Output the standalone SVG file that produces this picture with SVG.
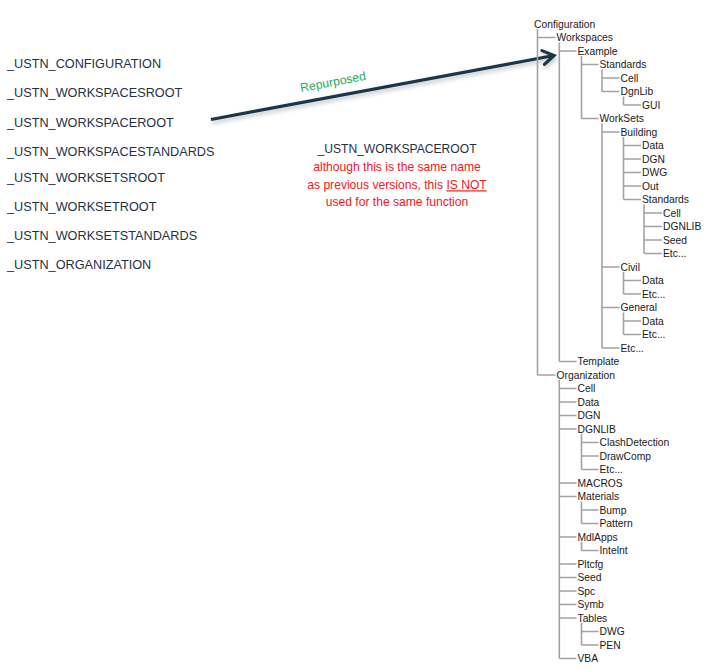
<svg xmlns="http://www.w3.org/2000/svg" width="713" height="671" viewBox="0 0 713 671">
<style>
.lbl{font-family:"Liberation Sans",Arial,sans-serif;font-size:12.7px;fill:#1f3244}
.t{font-family:"Liberation Sans",Arial,sans-serif;font-size:10.3px;fill:#1a1a1a}
.tl{fill:none;stroke:#a3a3a3;stroke-width:1.6}
.note{font-family:"Liberation Sans",Arial,sans-serif;font-size:12.1px;text-anchor:middle}
.red{fill:#e8211f}
</style>
<defs>
<marker id="chev" markerUnits="userSpaceOnUse" viewBox="-14 -10 18 20" markerWidth="18" markerHeight="20" refX="0" refY="0" orient="auto" overflow="visible">
<path d="M-11,-7 L0,0 L-11,7" fill="none" stroke="#1a3548" stroke-width="3.2" stroke-linecap="round" stroke-linejoin="miter"/>
</marker>
<filter id="sh" x="-10%" y="-50%" width="120%" height="200%">
<feDropShadow dx="1" dy="2.5" stdDeviation="2" flood-color="#000" flood-opacity="0.25"/>
</filter>
</defs>
<rect width="713" height="671" fill="#fff"/>

<g id="labels">
<g id="l1"><text class="lbl" x="7" y="67.5">_USTN_CONFIGURATION</text></g>
<g id="l2"><text class="lbl" x="7" y="96.7">_USTN_WORKSPACESROOT</text></g>
<g id="l3"><text class="lbl" x="7" y="126.5">_USTN_WORKSPACEROOT</text></g>
<g id="l4"><text class="lbl" x="7" y="155.7">_USTN_WORKSPACESTANDARDS</text></g>
<g id="l5"><text class="lbl" x="7" y="181.7">_USTN_WORKSETSROOT</text></g>
<g id="l6"><text class="lbl" x="7" y="211">_USTN_WORKSETROOT</text></g>
<g id="l7"><text class="lbl" x="7" y="240">_USTN_WORKSETSTANDARDS</text></g>
<g id="l8"><text class="lbl" x="7" y="269.3">_USTN_ORGANIZATION</text></g>
</g>

<g id="note">
<text class="note" x="397" y="153.3" fill="#1f3244">_USTN_WORKSPACEROOT</text>
<text class="note red" x="397" y="171">although this is the same name</text>
<text class="note red" x="397" y="189.3">as previous versions, this <tspan text-decoration="underline" style="text-decoration:underline">IS NOT</tspan></text>
<text class="note red" x="397" y="206">used for the same function</text>
</g>

<g id="connectors">
<g id="arrow" filter="url(#sh)">
<line x1="211" y1="119.5" x2="554" y2="55.5" stroke="#1a3548" stroke-width="3.2" marker-end="url(#chev)"/>
</g>
<text transform="translate(333,82) rotate(-10.5)" x="0" y="4" text-anchor="middle" style="font-family:'Liberation Sans',Arial,sans-serif;font-size:12.2px;fill:#2aa85c">Repurposed</text>
<path class="tl" d="
M537.5,29 V375
M559.3,42.5 V361.5
M581.5,56 V118.5
M602,69.5 V91.5
M623.5,96.5 V105
M602,123.5 V348
M623.5,137 V199.5
M644,204.5 V253.5
M623.5,272 V294
M623.5,312.5 V334.5
M559.3,380 V658.5
M581.5,434 V469.5
M581.5,501.5 V523.5
M581.5,542 V550.5
M581.5,623 V645
M537.5,37.5 H555.5
M559.3,51 H576.5
M581.5,64.5 H598.5
M602,78 H619.5
M602,91.5 H619.5
M623.5,105 H641
M581.5,118.5 H598.5
M602,132 H619.5
M623.5,145.5 H641
M623.5,159 H641
M623.5,172.5 H641
M623.5,186 H641
M623.5,199.5 H641
M644,213 H662
M644,226.5 H662
M644,240 H662
M644,253.5 H662
M602,267 H619.5
M623.5,280.5 H641
M623.5,294 H641
M602,307.5 H619.5
M623.5,321 H641
M623.5,334.5 H641
M602,348 H619.5
M559.3,361.5 H576.5
M537.5,375 H555.5
M559.3,388.5 H576.5
M559.3,402 H576.5
M559.3,415.5 H576.5
M559.3,429 H576.5
M581.5,442.5 H598.5
M581.5,456 H598.5
M581.5,469.5 H598.5
M559.3,483 H576.5
M559.3,496.5 H576.5
M581.5,510 H598.5
M581.5,523.5 H598.5
M559.3,537 H576.5
M581.5,550.5 H598.5
M559.3,564 H576.5
M559.3,577.5 H576.5
M559.3,591 H576.5
M559.3,604.5 H576.5
M559.3,618 H576.5
M581.5,631.5 H598.5
M581.5,645 H598.5
M559.3,658.5 H576.5"/>
</g>

<g id="tree">
<g id="n0"><text class="t" x="534" y="27.7">Configuration</text></g>
<g id="n1"><text class="t" x="556.5" y="41.2">Workspaces</text></g>
<g id="n2"><text class="t" x="577.5" y="54.7">Example</text></g>
<g id="n3"><text class="t" x="599.5" y="68.2">Standards</text></g>
<g id="n4"><text class="t" x="620.5" y="81.7">Cell</text></g>
<g id="n5"><text class="t" x="620.5" y="95.2">DgnLib</text></g>
<g id="n6"><text class="t" x="642" y="108.7">GUI</text></g>
<g id="n7"><text class="t" x="599.5" y="122.2">WorkSets</text></g>
<g id="n8"><text class="t" x="620.5" y="135.7">Building</text></g>
<g id="n9"><text class="t" x="642" y="149.2">Data</text></g>
<g id="n10"><text class="t" x="642" y="162.7">DGN</text></g>
<g id="n11"><text class="t" x="642" y="176.2">DWG</text></g>
<g id="n12"><text class="t" x="642" y="189.7">Out</text></g>
<g id="n13"><text class="t" x="642" y="203.2">Standards</text></g>
<g id="n14"><text class="t" x="663" y="216.7">Cell</text></g>
<g id="n15"><text class="t" x="663" y="230.2">DGNLIB</text></g>
<g id="n16"><text class="t" x="663" y="243.7">Seed</text></g>
<g id="n17"><text class="t" x="663" y="257.2">Etc...</text></g>
<g id="n18"><text class="t" x="620.5" y="270.7">Civil</text></g>
<g id="n19"><text class="t" x="642" y="284.2">Data</text></g>
<g id="n20"><text class="t" x="642" y="297.7">Etc...</text></g>
<g id="n21"><text class="t" x="620.5" y="311.2">General</text></g>
<g id="n22"><text class="t" x="642" y="324.7">Data</text></g>
<g id="n23"><text class="t" x="642" y="338.2">Etc...</text></g>
<g id="n24"><text class="t" x="620.5" y="351.7">Etc...</text></g>
<g id="n25"><text class="t" x="577.5" y="365.2">Template</text></g>
<g id="n26"><text class="t" x="556.5" y="378.7">Organization</text></g>
<g id="n27"><text class="t" x="577.5" y="392.2">Cell</text></g>
<g id="n28"><text class="t" x="577.5" y="405.7">Data</text></g>
<g id="n29"><text class="t" x="577.5" y="419.2">DGN</text></g>
<g id="n30"><text class="t" x="577.5" y="432.7">DGNLIB</text></g>
<g id="n31"><text class="t" x="599.5" y="446.2">ClashDetection</text></g>
<g id="n32"><text class="t" x="599.5" y="459.7">DrawComp</text></g>
<g id="n33"><text class="t" x="599.5" y="473.2">Etc...</text></g>
<g id="n34"><text class="t" x="577.5" y="486.7">MACROS</text></g>
<g id="n35"><text class="t" x="577.5" y="500.2">Materials</text></g>
<g id="n36"><text class="t" x="599.5" y="513.7">Bump</text></g>
<g id="n37"><text class="t" x="599.5" y="527.2">Pattern</text></g>
<g id="n38"><text class="t" x="577.5" y="540.7">MdlApps</text></g>
<g id="n39"><text class="t" x="599.5" y="554.2">Intelnt</text></g>
<g id="n40"><text class="t" x="577.5" y="567.7">Pltcfg</text></g>
<g id="n41"><text class="t" x="577.5" y="581.2">Seed</text></g>
<g id="n42"><text class="t" x="577.5" y="594.7">Spc</text></g>
<g id="n43"><text class="t" x="577.5" y="608.2">Symb</text></g>
<g id="n44"><text class="t" x="577.5" y="621.7">Tables</text></g>
<g id="n45"><text class="t" x="599.5" y="635.2">DWG</text></g>
<g id="n46"><text class="t" x="599.5" y="648.7">PEN</text></g>
<g id="n47"><text class="t" x="577.5" y="662.2">VBA</text></g>
</g>
</svg>
